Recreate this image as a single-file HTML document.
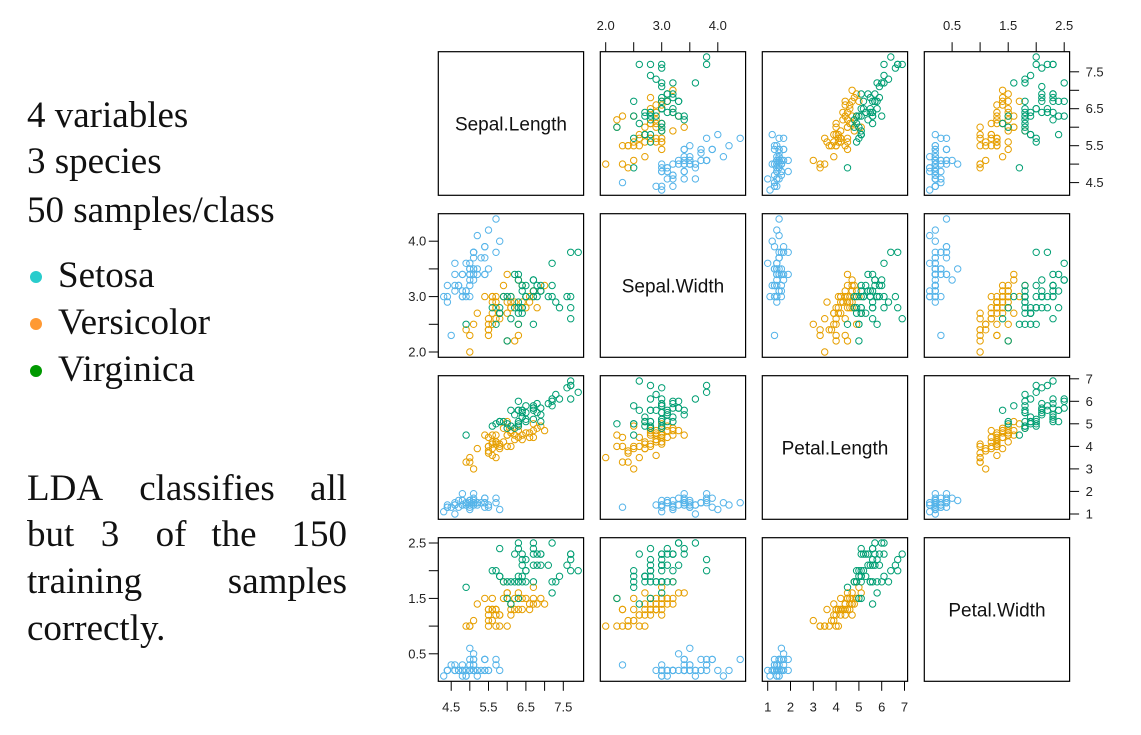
<!DOCTYPE html>
<html><head><meta charset="utf-8"><style>
html,body{margin:0;padding:0;background:#fff;}
svg{display:block;}
.s{font-family:"Liberation Serif",serif;font-size:37px;fill:#111;}
.t{font-family:"Liberation Sans",sans-serif;font-size:13px;fill:#222;}
.lab{font-family:"Liberation Sans",sans-serif;font-size:19px;fill:#111;}
</style></head><body>
<svg id="c" width="1141" height="735" viewBox="0 0 1141 735" xmlns="http://www.w3.org/2000/svg">
<text class="s" x="27" y="127">4 variables</text>
<text class="s" x="27" y="173">3 species</text>
<text class="s" x="27" y="222">50 samples/class</text>
<circle cx="36" cy="277" r="6" fill="#29CCCC"/>
<circle cx="36" cy="324" r="6" fill="#FF9933"/>
<circle cx="36" cy="371" r="6" fill="#009900"/>
<text class="s" x="58" y="287">Setosa</text>
<text class="s" x="58" y="334">Versicolor</text>
<text class="s" x="58" y="381">Virginica</text>
<text class="s" x="27" y="500">LDA</text>
<text class="s" x="207" y="500" text-anchor="middle">classifies</text>
<text class="s" x="347" y="500" text-anchor="end">all</text>
<text class="s" x="27" y="546">but</text>
<text class="s" x="110" y="546" text-anchor="middle">3</text>
<text class="s" x="171" y="546" text-anchor="middle">of</text>
<text class="s" x="234" y="546" text-anchor="middle">the</text>
<text class="s" x="347" y="546" text-anchor="end">150</text>
<text class="s" x="27" y="593">training</text>
<text class="s" x="347" y="593" text-anchor="end">samples</text>
<text class="s" x="27" y="640">correctly.</text>
</svg>
<script>
var D=[
[5.1,3.5,1.4,0.2],[4.9,3.0,1.4,0.2],[4.7,3.2,1.3,0.2],[4.6,3.1,1.5,0.2],[5.0,3.6,1.4,0.2],[5.4,3.9,1.7,0.4],[4.6,3.4,1.4,0.3],[5.0,3.4,1.5,0.2],[4.4,2.9,1.4,0.2],[4.9,3.1,1.5,0.1],
[5.4,3.7,1.5,0.2],[4.8,3.4,1.6,0.2],[4.8,3.0,1.4,0.1],[4.3,3.0,1.1,0.1],[5.8,4.0,1.2,0.2],[5.7,4.4,1.5,0.4],[5.4,3.9,1.3,0.4],[5.1,3.5,1.4,0.3],[5.7,3.8,1.7,0.3],[5.1,3.8,1.5,0.3],
[5.4,3.4,1.7,0.2],[5.1,3.7,1.5,0.4],[4.6,3.6,1.0,0.2],[5.1,3.3,1.7,0.5],[4.8,3.4,1.9,0.2],[5.0,3.0,1.6,0.2],[5.0,3.4,1.6,0.4],[5.2,3.5,1.5,0.2],[5.2,3.4,1.4,0.2],[4.7,3.2,1.6,0.2],
[4.8,3.1,1.6,0.2],[5.4,3.4,1.5,0.4],[5.2,4.1,1.5,0.1],[5.5,4.2,1.4,0.2],[4.9,3.1,1.5,0.2],[5.0,3.2,1.2,0.2],[5.5,3.5,1.3,0.2],[4.9,3.6,1.4,0.1],[4.4,3.0,1.3,0.2],[5.1,3.4,1.5,0.2],
[5.0,3.5,1.3,0.3],[4.5,2.3,1.3,0.3],[4.4,3.2,1.3,0.2],[5.0,3.5,1.6,0.6],[5.1,3.8,1.9,0.4],[4.8,3.0,1.4,0.3],[5.1,3.8,1.6,0.2],[4.6,3.2,1.4,0.2],[5.3,3.7,1.5,0.2],[5.0,3.3,1.4,0.2],
[7.0,3.2,4.7,1.4],[6.4,3.2,4.5,1.5],[6.9,3.1,4.9,1.5],[5.5,2.3,4.0,1.3],[6.5,2.8,4.6,1.5],[5.7,2.8,4.5,1.3],[6.3,3.3,4.7,1.6],[4.9,2.4,3.3,1.0],[6.6,2.9,4.6,1.3],[5.2,2.7,3.9,1.4],
[5.0,2.0,3.5,1.0],[5.9,3.0,4.2,1.5],[6.0,2.2,4.0,1.0],[6.1,2.9,4.7,1.4],[5.6,2.9,3.6,1.3],[6.7,3.1,4.4,1.4],[5.6,3.0,4.5,1.5],[5.8,2.7,4.1,1.0],[6.2,2.2,4.5,1.5],[5.6,2.5,3.9,1.1],
[5.9,3.2,4.8,1.8],[6.1,2.8,4.0,1.3],[6.3,2.5,4.9,1.5],[6.1,2.8,4.7,1.2],[6.4,2.9,4.3,1.3],[6.6,3.0,4.4,1.4],[6.8,2.8,4.8,1.4],[6.7,3.0,5.0,1.7],[6.0,2.9,4.5,1.5],[5.7,2.6,3.5,1.0],
[5.5,2.4,3.8,1.1],[5.5,2.4,3.7,1.0],[5.8,2.7,3.9,1.2],[6.0,2.7,5.1,1.6],[5.4,3.0,4.5,1.5],[6.0,3.4,4.5,1.6],[6.7,3.1,4.7,1.5],[6.3,2.3,4.4,1.3],[5.6,3.0,4.1,1.3],[5.5,2.5,4.0,1.3],
[5.5,2.6,4.4,1.2],[6.1,3.0,4.6,1.4],[5.8,2.6,4.0,1.2],[5.0,2.3,3.3,1.0],[5.6,2.7,4.2,1.3],[5.7,3.0,4.2,1.2],[5.7,2.9,4.2,1.3],[6.2,2.9,4.3,1.3],[5.1,2.5,3.0,1.1],[5.7,2.8,4.1,1.3],
[6.3,3.3,6.0,2.5],[5.8,2.7,5.1,1.9],[7.1,3.0,5.9,2.1],[6.3,2.9,5.6,1.8],[6.5,3.0,5.8,2.2],[7.6,3.0,6.6,2.1],[4.9,2.5,4.5,1.7],[7.3,2.9,6.3,1.8],[6.7,2.5,5.8,1.8],[7.2,3.6,6.1,2.5],
[6.5,3.2,5.1,2.0],[6.4,2.7,5.3,1.9],[6.8,3.0,5.5,2.1],[5.7,2.5,5.0,2.0],[5.8,2.8,5.1,2.4],[6.4,3.2,5.3,2.3],[6.5,3.0,5.5,1.8],[7.7,3.8,6.7,2.2],[7.7,2.6,6.9,2.3],[6.0,2.2,5.0,1.5],
[6.9,3.2,5.7,2.3],[5.6,2.8,4.9,2.0],[7.7,2.8,6.7,2.0],[6.3,2.7,4.9,1.8],[6.7,3.3,5.7,2.1],[7.2,3.2,6.0,1.8],[6.2,2.8,4.8,1.8],[6.1,3.0,4.9,1.8],[6.4,2.8,5.6,2.1],[7.2,3.0,5.8,1.6],
[7.4,2.8,6.1,1.9],[7.9,3.8,6.4,2.0],[6.4,2.8,5.6,2.2],[6.3,2.8,5.1,1.5],[6.1,2.6,5.6,1.4],[7.7,3.0,6.1,2.3],[6.3,3.4,5.6,2.4],[6.4,3.1,5.5,1.8],[6.0,3.0,4.8,1.8],[6.9,3.1,5.4,2.1],
[6.7,3.1,5.6,2.4],[6.9,3.1,5.1,2.3],[5.8,2.7,5.1,1.9],[6.8,3.2,5.9,2.3],[6.7,3.3,5.7,2.5],[6.7,3.0,5.2,2.3],[6.3,2.5,5.0,1.9],[6.5,3.0,5.2,2.0],[6.2,3.4,5.4,2.3],[5.9,3.0,5.1,1.8]];
var R=[[4.156,8.044],[1.904,4.496],[0.764,7.136],[0.004,2.596]];
var names=["Sepal.Length","Sepal.Width","Petal.Length","Petal.Width"];
var cols=["#56B4E9","#E69F00","#009E73"];
var X0=438.3,Y0=51.7,W=145.3,H=143.6,S=162;
var o="";
function px(j,v){return X0+S*j+(v-R[j][0])/(R[j][1]-R[j][0])*W;}
function py(i,v){return Y0+S*i+H-(v-R[i][0])/(R[i][1]-R[i][0])*H;}
for(var i=0;i<4;i++)for(var j=0;j<4;j++){
 var x=X0+S*j,y=Y0+S*i;
 o+='<rect x="'+x+'" y="'+y+'" width="'+W+'" height="'+H+'" fill="none" stroke="#000" stroke-width="1.2"/>';
 if(i==j){o+='<text class="lab" x="'+(x+W/2)+'" y="'+(y+H/2+7)+'" text-anchor="middle">'+names[i]+'</text>';continue;}
 for(var k=0;k<150;k++){
  o+='<circle cx="'+px(j,D[k][j]).toFixed(1)+'" cy="'+py(i,D[k][i]).toFixed(1)+'" r="3.2" fill="none" stroke="'+cols[Math.floor(k/50)]+'" stroke-width="1"/>';
 }
}
var T=[[[4.5,5,5.5,6,6.5,7,7.5],["4.5",null,"5.5",null,"6.5",null,"7.5"]],
[[2,2.5,3,3.5,4],["2.0",null,"3.0",null,"4.0"]],
[[1,2,3,4,5,6,7],["1","2","3","4","5","6","7"]],
[[0.5,1,1.5,2,2.5],["0.5",null,"1.5",null,"2.5"]]];
function ax(v,side){
 var t=T[v];
 for(var m=0;m<t[0].length;m++){
  var val=t[0][m],lb=t[1][m];
  if(side=="top"||side=="bottom"){
   var xx=px(v,val).toFixed(1);
   if(side=="top"){o+='<line x1="'+xx+'" x2="'+xx+'" y1="'+(Y0-9.5)+'" y2="'+Y0+'" stroke="#000"/>';
     if(lb)o+='<text class="t" x="'+xx+'" y="30" text-anchor="middle">'+lb+'</text>';}
   else{var yb=Y0+3*S+H;o+='<line x1="'+xx+'" x2="'+xx+'" y1="'+yb+'" y2="'+(yb+9.5)+'" stroke="#000"/>';
     if(lb)o+='<text class="t" x="'+xx+'" y="'+(yb+30)+'" text-anchor="middle">'+lb+'</text>';}
  } else {
   var yy=py(v,val).toFixed(1);
   if(side=="left"){o+='<line x1="'+(X0-9.5)+'" x2="'+X0+'" y1="'+yy+'" y2="'+yy+'" stroke="#000"/>';
     if(lb)o+='<text class="t" x="'+(X0-12)+'" y="'+(+yy+4.5)+'" text-anchor="end">'+lb+'</text>';}
   else{var xr=X0+3*S+W;o+='<line x1="'+xr+'" x2="'+(xr+9.5)+'" y1="'+yy+'" y2="'+yy+'" stroke="#000"/>';
     if(lb)o+='<text class="t" x="'+(xr+16)+'" y="'+(+yy+4.5)+'">'+lb+'</text>';}
  }
 }
}
ax(1,"top");ax(3,"top");ax(0,"bottom");ax(2,"bottom");ax(1,"left");ax(3,"left");ax(0,"right");ax(2,"right");
document.getElementById("c").insertAdjacentHTML("beforeend",o);
</script>
</body></html>
